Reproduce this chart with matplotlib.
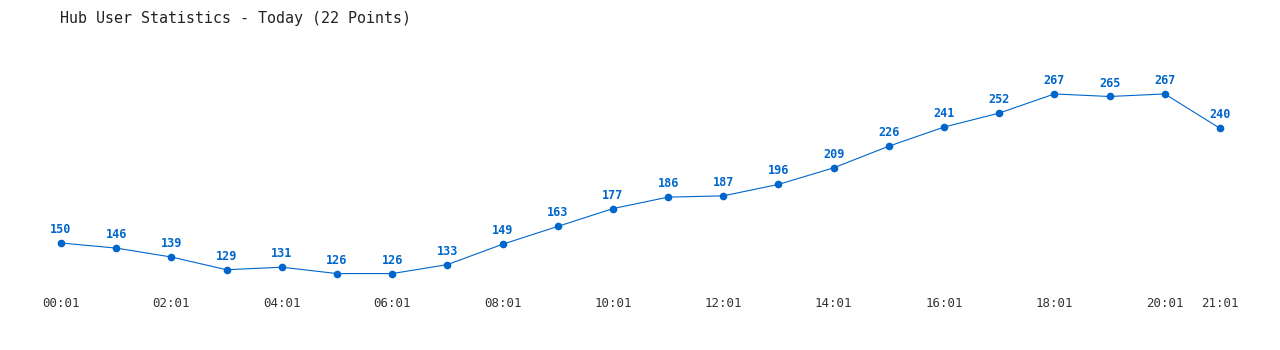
import numpy as np
import matplotlib
matplotlib.use("Agg")
import matplotlib.pyplot as plt

hours = ["00:01", "01:01", "02:01", "03:01", "04:01", "05:01", "06:01", "07:01",
         "08:01", "09:01", "10:01", "11:01", "12:01", "13:01", "14:01", "15:01",
         "16:01", "17:01", "18:01", "19:01", "20:01", "21:01"]
users = [150, 146, 139, 129, 131, 126, 126, 133, 149, 163, 177, 186, 187, 196,
         209, 226, 241, 252, 267, 265, 267, 240]
tick_idx = [0, 2, 4, 6, 8, 10, 12, 14, 16, 18, 20, 21]

blue = "#0066CC"
plt.rcParams['font.family'] = ['DejaVu Sans Mono']

fig = plt.figure(figsize=(12.8, 3.5), dpi=100)
ax = fig.add_axes([0, 60/350, 1, 240/350])

x = np.arange(len(users))
ax.plot(x, users, color=blue, linewidth=0.8, marker='o', markersize=4.5)
for i, v in enumerate(users):
    ax.annotate(str(v), (i, v), xytext=(0, 5), textcoords='offset points',
                ha='center', va='bottom', fontsize=8.5, fontweight='bold', color=blue)

ax.set_xlim(-61/55.19, 21 + 60/55.19)
ax.set_ylim(113.1, 301.5)
ax.set_xticks(tick_idx)
ax.set_xticklabels([hours[i] for i in tick_idx])
ax.tick_params(axis='x', length=0, pad=5, labelsize=9, labelcolor='#333333')
ax.set_yticks([])
for s in ax.spines.values():
    s.set_visible(False)

fig.text(60/1280, 1 - 18/350, "Hub User Statistics - Today (22 Points)",
         fontsize=10.8, color='#222222', ha='left', va='center')

fig.savefig("out.png", dpi=100)
